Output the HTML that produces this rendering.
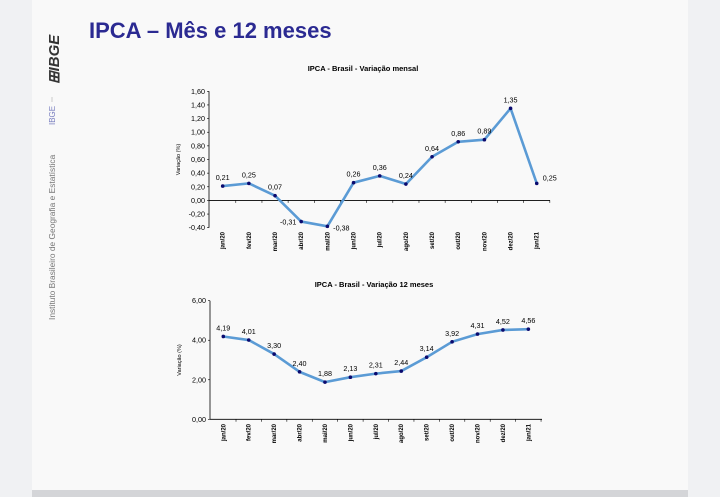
<!DOCTYPE html>
<html><head><meta charset="utf-8"><style>
body{margin:0;width:720px;height:497px;background:#f0f1f3;overflow:hidden;font-family:"Liberation Sans",sans-serif}
#slide{position:absolute;left:32px;top:0;width:656px;height:490px;background:#f9f9f9;border-bottom:7px solid #d4d5d8}
svg{position:absolute;left:0;top:0}
</style></head><body>
<div id="slide"></div>
<svg width="720" height="497" id="svg">
<text x="89" y="38" font-size="22" font-weight="bold" fill="#2b2a92">IPCA – Mês e 12 meses</text>
<text transform="translate(59,84) rotate(-90)" font-size="15" font-weight="bold" font-style="italic" fill="#333">⊞IBGE</text>
<line x1="52" y1="97" x2="52" y2="102" stroke="#ccc"/>
<text transform="translate(55,125) rotate(-90)" font-size="8" fill="#7a7fc0">IBGE</text>
<text transform="translate(55,320) rotate(-90)" font-size="8.4" fill="#777">Instituto Brasileiro de Geografia e Estatística</text>
<text x="363" y="71" font-size="7.5" font-weight="bold" text-anchor="middle">IPCA - Brasil - Variação mensal</text>
<text x="374" y="287" font-size="7.5" font-weight="bold" text-anchor="middle">IPCA - Brasil - Variação 12 meses</text>
<g id="c1"></g><g id="c2"></g>
</svg>
<script>
const months=["jan/20","fev/20","mar/20","abr/20","mai/20","jun/20","jul/20","ago/20","set/20","out/20","nov/20","dez/20","jan/21"];
const monthly=[0.21,0.25,0.07,-0.31,-0.38,0.26,0.36,0.24,0.64,0.86,0.89,1.35,0.25];
const monthlyTicks=[-0.4,-0.2,0,0.2,0.4,0.6,0.8,1.0,1.2,1.4,1.6];
const yearly=[4.19,4.01,3.30,2.40,1.88,2.13,2.31,2.44,3.14,3.92,4.31,4.52,4.56];
const yearlyTicks=[0,2,4,6];
const NS="http://www.w3.org/2000/svg";
function mk(p,t,a){const e=document.createElementNS(NS,t);for(const k in a)e.setAttribute(k,a[k]);p.appendChild(e);return e;}
const fmt=v=>v.toFixed(2).replace('.',',');
function draw(g,name,vals,ticks,ymin,ymax,yTop,yBot,ax,x0,step,axEnd,labTop,lblOff){
  const y=v=>yBot-(v-ymin)/(ymax-ymin)*(yBot-yTop);
  const x=i=>x0+i*step;
  const a=mk(g,'line',{x1:ax,y1:yTop,x2:ax,y2:yBot,stroke:'#000','stroke-width':0.8});
  
  
  const base=y(Math.max(ymin,0));
  const xa=mk(g,'line',{x1:ax,y1:base,x2:axEnd,y2:base,stroke:'#000','stroke-width':0.8});
  
  
  ticks.forEach(t=>{
    mk(g,'line',{x1:ax-2,y1:y(t),x2:ax,y2:y(t),stroke:'#000','stroke-width':0.6});
    const tl=mk(g,'text',{x:ax-4,y:y(t)+2.5,'font-size':7.2,'text-anchor':'end'});
    tl.textContent=fmt(t);
    
    
  });
  months.forEach((m,i)=>{
    const bx=x(i)+step/2;
    mk(g,'line',{x1:bx,y1:base,x2:bx,y2:base+2.5,stroke:'#000','stroke-width':0.6});
    const tl=mk(g,'text',{transform:`translate(${x(i)+2},${labTop}) rotate(-90)`,'font-size':6,'font-weight':'bold','text-anchor':'end'});
    tl.textContent=m;
    
    
  });
  const yl=mk(g,'text',{transform:`translate(${ax-29},${(yTop+yBot)/2}) rotate(-90)`,'font-size':5.5,'text-anchor':'middle'});
  yl.textContent='Variação (%)';
  
  
  const pl=mk(g,'polyline',{points:vals.map((v,i)=>x(i)+','+y(v)).join(' '),fill:'none',stroke:'#5b9bd5','stroke-width':2.6,'stroke-linejoin':'round'});
  
  
  vals.forEach((v,i)=>{
    const c=mk(g,'circle',{cx:x(i),cy:y(v),r:1.8,fill:'#0a0a6e'});
    
    
    const o=lblOff(i,v);
    const t=mk(g,'text',{x:x(i)+o[0],y:y(v)+o[1],'font-size':7.2,'text-anchor':'middle'});
    t.textContent=fmt(v);
    
    
  });
}
draw(document.getElementById('c1'),'monthly-chart',monthly,monthlyTicks,-0.4,1.6,91.3,227.7,209,222.7,26.17,550,232,
  (i,v)=>i==3?[-13,3]:i==4?[14,4]:i==12?[13,-3]:[0,-6]);
draw(document.getElementById('c2'),'yearly-chart',yearly,yearlyTicks,0,6,300.7,419.3,210,223.3,25.42,542,424,
  (i,v)=>[0,-6]);
</script>
</body></html>
